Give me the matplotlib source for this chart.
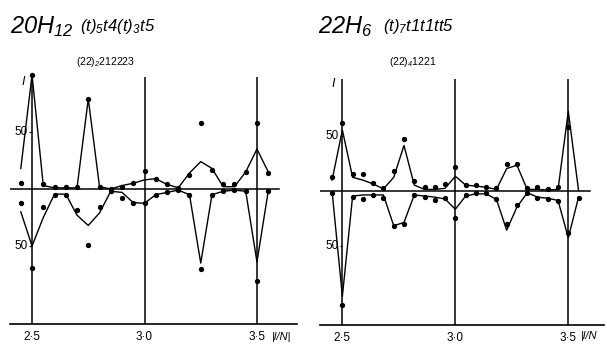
import numpy as np
import matplotlib
matplotlib.use("Agg")
import matplotlib.pyplot as plt

plt.rcParams['font.family'] = ['Liberation Sans', 'DejaVu Sans']
plt.rcParams['mathtext.fontset'] = 'custom'
plt.rcParams['mathtext.it'] = 'Liberation Sans:italic'
plt.rcParams['mathtext.rm'] = 'Liberation Sans:italic'

# 20H12 : l/N avec N = 20
l_20 = [49, 50, 51, 52, 53, 54, 55, 56, 57, 58, 59, 60,
        61, 62, 63, 64, 65, 66, 67, 68, 69, 70, 71]
haut_calc_20 = [18, 100, 3, 1, 1, 1, 79, 2, 0, 3, 5, 8,
                9, 4, 1, 14, 24, 18, 2, 2, 15, 35, 15]
haut_obs_20 = [5, 100, 4, 2, 1.5, 2, 79, 2, 0, 2, 5, 16,
               9, 4, 1, 12, 58, 17, 4, 4, 15, 58, 14]
bas_calc_20 = [20, 50, 25, 4.5, 4.5, 23, 32, 21, 2, 3, 12, 12.5,
               5, 3, 1, 5, 65, 5, 2, 1, 2, 64, 2]
bas_obs_20 = [12, 69, 16, 5, 5, 18, 49, 16, 2, 8, 12, 12,
              5, 3, 1, 5, 70, 5, 2, 1, 2, 81, 2]

# 22H6 : l/N avec N = 22
l_22 = [54, 55, 56, 57, 58, 59, 60, 61, 62, 63, 64, 65, 66,
        67, 68, 69, 70, 71, 72, 73, 74, 75, 76, 77, 78]
haut_calc_22 = [9.5, 55, 12, 9.5, 6, 1.5, 12, 41, 5, 1, 1, 2, 13,
                5, 4, 3, 1, 20, 23, 1, 1, 0.5, 1, 72, 0]
haut_obs_22 = [12, 61, 15, 15, 7, 2, 18, 46.5, 9, 3, 3.5, 5.6, 21,
               5, 5, 3, 2, 24, 24, 2, 3, 1, 3, 58, np.nan]
bas_calc_22 = [1, 96, 5, 4, 4, 4, 32, 29, 4, 5, 6, 7.7, 17,
               5, 3, 3, 8, 36, 15, 2, 6, 7, 9, 43, 6]
bas_obs_22 = [2.5, 104, 5.6, 8, 4, 7, 32, 30, 4, 5.6, 8.6, 7, 25,
              4, 2.6, 2.6, 8, 30, 13, 2.6, 7, 8, 9.5, 39, 7]

x_ticks = [2.5, 3.0, 3.5]
x_labels = ['2·5', '3·0', '3·5']

W, H = 607, 344


def panneau(ax, N, l, hc, ho, bc, bo, xlim, ylim, zero_xmax):
    x = np.array(l) / N
    ax.set_xlim(*xlim)
    ax.set_ylim(*ylim)
    for s in ['top', 'left', 'right']:
        ax.spines[s].set_visible(False)
    ax.spines['bottom'].set_linewidth(1.2)
    ax.set_yticks([])
    ax.set_xticks(x_ticks, labels=x_labels, fontsize=8.5)
    ax.tick_params(axis='x', length=0, pad=5)

    # lignes verticales et ligne zéro
    for v in x_ticks:
        ax.axvline(v, color='k', lw=1.1)
    ax.axhline(0, xmin=0, xmax=zero_xmax, color='k', lw=1.1)
    ax.hlines([50, -50], 2.5 - 0.012, 2.5, color='k', lw=0.8)
    ax.text(2.5 - 0.018, 50, '50', ha='right', va='center', fontsize=8.5)
    ax.text(2.5 - 0.018, -50, '50', ha='right', va='center', fontsize=8.5)

    # intensités calculées (lignes) et observées (points)
    ax.plot(x, hc, color='k', lw=1.0, clip_on=False)
    ax.plot(x, -np.array(bc), color='k', lw=1.0, clip_on=False)
    ax.plot(x, ho, 'o', color='k', ms=2.8, clip_on=False)
    ax.plot(x, -np.array(bo), 'o', color='k', ms=2.8, clip_on=False)


fig = plt.figure(figsize=(W / 100, H / 100), dpi=100)

ax1 = fig.add_axes([10 / W, 20 / H, 287 / W, 247 / H])
panneau(ax1, 20, l_20, haut_calc_20, haut_obs_20, bas_calc_20, bas_obs_20,
        (2.402, 3.678), (-118.4, 98.2), 0.937)

ax2 = fig.add_axes([320 / W, 18.7 / H, 284 / W, 246.3 / H])
panneau(ax2, 22, l_22, haut_calc_22, haut_obs_22, bas_calc_22, bas_obs_22,
        (2.401, 3.658), (-122.5, 101.4), 0.95)


def ftext(x, y, s, **kw):
    fig.text(x / W, 1 - y / H, s, **kw)


# titres
ftext(10, 27, r'$20H_{12}$', fontsize=17, va='center')
ftext(80, 27, r'$(t)_{5}t4(t)_{3}t5$', fontsize=12, va='center')
ftext(76, 62, r'(22)$_{2}$212223', fontsize=7.5, va='center')
ftext(318, 27, r'$22H_{6}$', fontsize=17, va='center')
ftext(383, 27, r'$(t)_{7}t1t1tt5$', fontsize=12, va='center')
ftext(389, 62, r'(22)$_{4}$1221', fontsize=7.5, va='center')

# label I
ftext(21, 82, 'I', fontsize=9, style='italic', va='center')
ftext(332, 84, 'I', fontsize=9, style='italic', va='center')

# label l/N
ftext(272, 337, '|l/N|', fontsize=8, style='italic', va='center')
ftext(581, 336, '|l/N', fontsize=8, style='italic', va='center')

fig.savefig('out.png', dpi=100)
